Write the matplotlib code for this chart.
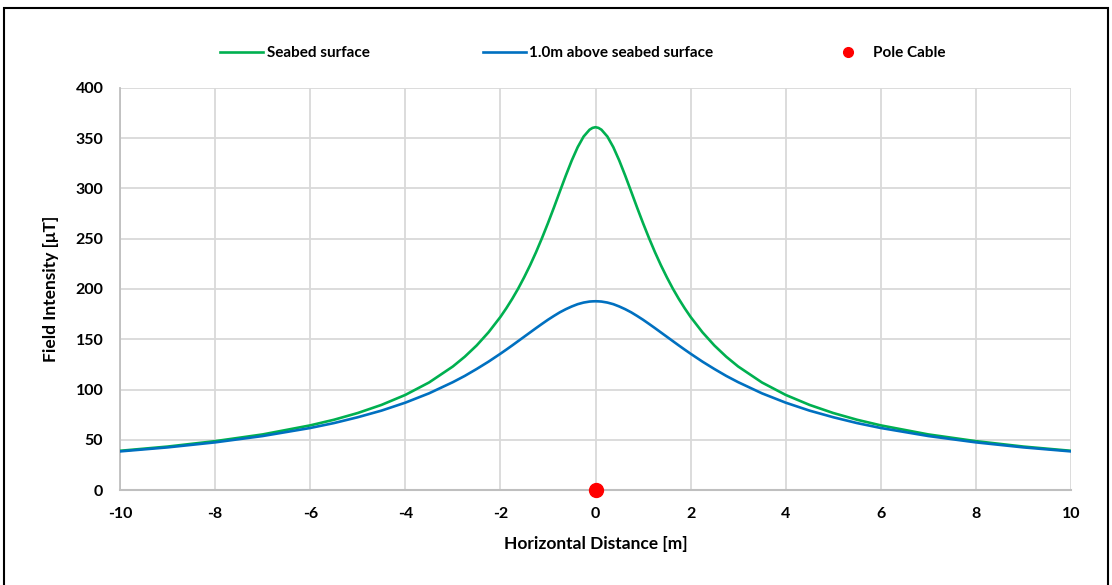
import matplotlib
matplotlib.use("Agg")
import matplotlib.pyplot as plt
from matplotlib.patches import Rectangle

plt.rcParams['font.family'] = ['Lato', 'DejaVu Sans']
plt.rcParams['axes.unicode_minus'] = False

x_vals = [-10, -9, -8, -7, -6, -5.5, -5, -4.5, -4, -3.5, -3, -2.75, -2.5, -2.25, -2,
          -1.875, -1.75, -1.625, -1.5, -1.375, -1.25, -1.125, -1, -0.875, -0.75, -0.625,
          -0.5, -0.375, -0.25, -0.125, -0.0625, 0,
          0.0625, 0.125, 0.25, 0.375, 0.5, 0.625, 0.75, 0.875, 1, 1.125, 1.25, 1.375,
          1.5, 1.625, 1.75, 1.875, 2, 2.25, 2.5, 2.75, 3, 3.5, 4, 4.5, 5, 5.5, 6, 7, 8, 9, 10]
seabed = [39.0, 43.2, 48.6, 55.3, 64.3, 69.9, 76.6, 84.7, 94.6, 107.0, 122.9, 132.6,
          143.8, 156.9, 172.2, 180.9, 190.3, 200.5, 211.7, 223.7, 236.7, 250.7, 265.5,
          281.0, 297.0, 312.8, 327.8, 341.1, 351.7, 358.5, 360.3, 361.0,
          360.3, 358.5, 351.7, 341.1, 327.8, 312.8, 297.0, 281.0, 265.5, 250.7, 236.7,
          223.7, 211.7, 200.5, 190.3, 180.9, 172.2, 156.9, 143.8, 132.6, 122.9, 107.0,
          94.6, 84.7, 76.6, 69.9, 64.3, 55.3, 48.6, 43.2, 39.0]
above_1m = [38.4, 42.4, 47.4, 53.7, 61.7, 66.6, 72.4, 79.0, 86.9, 96.2, 107.3, 113.5,
            120.4, 127.7, 135.6, 139.7, 143.9, 148.2, 152.5, 156.8, 161.1, 165.3, 169.4,
            173.2, 176.8, 179.9, 182.6, 184.9, 186.5, 187.5, 187.7, 187.8,
            187.7, 187.5, 186.5, 184.9, 182.6, 179.9, 176.8, 173.2, 169.4, 165.3, 161.1,
            156.8, 152.5, 148.2, 143.9, 139.7, 135.6, 127.7, 120.4, 113.5, 107.3, 96.2,
            86.9, 79.0, 72.4, 66.6, 61.7, 53.7, 47.4, 42.4, 38.4]
cable_x = [0]
cable_y = [0]
x_ticks = [-10, -8, -6, -4, -2, 0, 2, 4, 6, 8, 10]
y_ticks = [0, 50, 100, 150, 200, 250, 300, 350, 400]

W, H = 1112, 585
fig = plt.figure(figsize=(W / 100, H / 100), dpi=100)
ax = fig.add_axes([120 / W, 1 - 490 / H, (1071 - 120) / W, (490 - 88) / H])

l1, = ax.plot(x_vals, seabed, color='#00B050', lw=1.9, label='Seabed surface',
              zorder=3, solid_joinstyle='round')
l2, = ax.plot(x_vals, above_1m, color='#0070C0', lw=1.9, label='1.0m above seabed surface',
              zorder=3, solid_joinstyle='round')
l3, = ax.plot(cable_x, cable_y, 'o', color='#FF0000', ms=10, label='Pole Cable',
              clip_on=False, zorder=5, linestyle='none')

ax.set_xlim(-10, 10)
ax.set_ylim(0, 400)
ax.set_xticks(x_ticks)
ax.set_yticks(y_ticks)
ax.grid(True, color='#d9d9d9', lw=1.3)
ax.set_axisbelow(True)
for s in ['top', 'right']:
    ax.spines[s].set_visible(False)
ax.spines['left'].set_color('#bfbfbf')
ax.spines['bottom'].set_color('#bfbfbf')
ax.spines['left'].set_linewidth(1.3)
ax.spines['bottom'].set_linewidth(1.5)
ax.tick_params(length=0, labelsize=11.5, pad=12)
for t in ax.get_xticklabels() + ax.get_yticklabels():
    t.set_fontweight('bold')

ax.set_xlabel('Horizontal Distance [m]', fontsize=12.5, fontweight='bold', labelpad=11)
ax.set_ylabel('Field Intensity [μT]', fontsize=12.5, fontweight='bold', labelpad=12)

fig.legend(handles=[l1, l2, l3], loc='center', bbox_to_anchor=(583 / W, 1 - 53 / H),
           ncol=3, frameon=False, handlelength=2.8, handletextpad=0.25,
           columnspacing=7.4, markerscale=0.7, prop={'weight': 'bold', 'size': 11})

fig.patches.append(Rectangle((4 / W, -0.05), (1108 - 4) / W, 1 - 8 / H + 0.05,
                             transform=fig.transFigure, fill=False, ec='black', lw=1.5))

fig.savefig('out.png', dpi=100, facecolor='white')
